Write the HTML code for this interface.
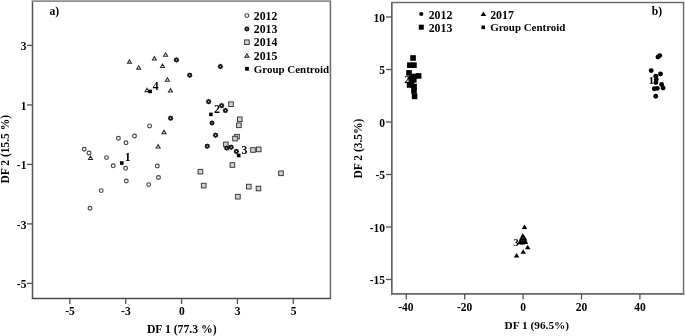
<!DOCTYPE html>
<html><head><meta charset="utf-8"><style>
html,body{margin:0;padding:0;background:#fff;}
body{width:685px;height:336px;overflow:hidden;font-family:"Liberation Serif",serif;}
svg{display:block;will-change:transform;}
</style></head><body>
<svg width="685" height="336" viewBox="0 0 685 336">
<defs><filter id="bl" x="0" y="0" width="100%" height="100%"><feGaussianBlur stdDeviation="0.28"/></filter></defs>
<rect width="685" height="336" fill="#fff"/>
<g filter="url(#bl)">
<line x1="32.5" y1="0" x2="32.5" y2="298.6" stroke="#535353" stroke-width="1.5"/>
<line x1="31.8" y1="298.55" x2="331.1" y2="298.55" stroke="#484848" stroke-width="1.45"/>
<line x1="330.45" y1="0" x2="330.45" y2="298.6" stroke="#6a6a6a" stroke-width="1.5"/>
<rect x="32" y="0" width="299" height="1" fill="#aaaaaa"/><rect x="32" y="1" width="299" height="1" fill="#8c8c8c"/>
<line x1="27" y1="45.4" x2="32.5" y2="45.4" stroke="#535353" stroke-width="1.3"/>
<text x="26.4" y="50.2" text-anchor="end" font-family="Liberation Serif" font-weight="bold" font-size="11.5">3</text>
<line x1="27" y1="104.9" x2="32.5" y2="104.9" stroke="#535353" stroke-width="1.3"/>
<text x="26.4" y="109.7" text-anchor="end" font-family="Liberation Serif" font-weight="bold" font-size="11.5">1</text>
<line x1="27" y1="164.4" x2="32.5" y2="164.4" stroke="#535353" stroke-width="1.3"/>
<text x="26.4" y="169.2" text-anchor="end" font-family="Liberation Serif" font-weight="bold" font-size="11.5">-1</text>
<line x1="27" y1="223.9" x2="32.5" y2="223.9" stroke="#535353" stroke-width="1.3"/>
<text x="26.4" y="228.7" text-anchor="end" font-family="Liberation Serif" font-weight="bold" font-size="11.5">-3</text>
<line x1="27" y1="283.4" x2="32.5" y2="283.4" stroke="#535353" stroke-width="1.3"/>
<text x="26.4" y="288.2" text-anchor="end" font-family="Liberation Serif" font-weight="bold" font-size="11.5">-5</text>
<line x1="69.8" y1="298.5" x2="69.8" y2="304.0" stroke="#535353" stroke-width="1.3"/>
<text x="70.0" y="315.2" text-anchor="middle" font-family="Liberation Serif" font-weight="bold" font-size="11.5">-5</text>
<line x1="125.7" y1="298.5" x2="125.7" y2="304.0" stroke="#535353" stroke-width="1.3"/>
<text x="125.9" y="315.2" text-anchor="middle" font-family="Liberation Serif" font-weight="bold" font-size="11.5">-3</text>
<line x1="181.55" y1="298.5" x2="181.55" y2="304.0" stroke="#535353" stroke-width="1.3"/>
<text x="181.75" y="315.2" text-anchor="middle" font-family="Liberation Serif" font-weight="bold" font-size="11.5">0</text>
<line x1="237.4" y1="298.5" x2="237.4" y2="304.0" stroke="#535353" stroke-width="1.3"/>
<text x="237.6" y="315.2" text-anchor="middle" font-family="Liberation Serif" font-weight="bold" font-size="11.5">3</text>
<line x1="293.3" y1="298.5" x2="293.3" y2="304.0" stroke="#535353" stroke-width="1.3"/>
<text x="293.5" y="315.2" text-anchor="middle" font-family="Liberation Serif" font-weight="bold" font-size="11.5">5</text>
<text x="146.9" y="333.1" font-family="Liberation Serif" font-weight="bold" font-size="11.7">DF 1 (77.3 %)</text>
<text transform="translate(8.7,183.5) rotate(-90)" x="0" y="0" font-family="Liberation Serif" font-weight="bold" font-size="11.5">DF 2 (15.5 %)</text>
<text x="49.5" y="14.9" font-family="Liberation Serif" font-weight="bold" font-size="11.6">a)</text>
<circle cx="84.2" cy="149.2" r="1.9" fill="#fff" stroke="#444" stroke-width="1.15"/>
<circle cx="89.0" cy="153.0" r="1.9" fill="#fff" stroke="#444" stroke-width="1.15"/>
<circle cx="106.5" cy="157.6" r="1.9" fill="#fff" stroke="#444" stroke-width="1.15"/>
<circle cx="113.2" cy="165.8" r="1.9" fill="#fff" stroke="#444" stroke-width="1.15"/>
<circle cx="125.6" cy="168.3" r="1.9" fill="#fff" stroke="#444" stroke-width="1.15"/>
<circle cx="126.0" cy="142.7" r="1.9" fill="#fff" stroke="#444" stroke-width="1.15"/>
<circle cx="118.4" cy="138.2" r="1.9" fill="#fff" stroke="#444" stroke-width="1.15"/>
<circle cx="134.5" cy="136.0" r="1.9" fill="#fff" stroke="#444" stroke-width="1.15"/>
<circle cx="149.6" cy="125.9" r="1.9" fill="#fff" stroke="#444" stroke-width="1.15"/>
<circle cx="157.3" cy="166.0" r="1.9" fill="#fff" stroke="#444" stroke-width="1.15"/>
<circle cx="158.5" cy="177.5" r="1.9" fill="#fff" stroke="#444" stroke-width="1.15"/>
<circle cx="148.7" cy="184.6" r="1.9" fill="#fff" stroke="#444" stroke-width="1.15"/>
<circle cx="126.3" cy="181.0" r="1.9" fill="#fff" stroke="#444" stroke-width="1.15"/>
<circle cx="101.2" cy="190.6" r="1.9" fill="#fff" stroke="#444" stroke-width="1.15"/>
<circle cx="90.0" cy="208.2" r="1.9" fill="#fff" stroke="#444" stroke-width="1.15"/>
<polygon points="129.50,59.70 131.50,63.10 127.50,63.10" fill="#fff" stroke="#2a2a2a" stroke-width="1.05" stroke-linejoin="miter"/>
<polygon points="138.70,65.70 140.70,69.10 136.70,69.10" fill="#fff" stroke="#2a2a2a" stroke-width="1.05" stroke-linejoin="miter"/>
<polygon points="154.40,56.60 156.40,60.00 152.40,60.00" fill="#fff" stroke="#2a2a2a" stroke-width="1.05" stroke-linejoin="miter"/>
<polygon points="165.60,52.80 167.60,56.20 163.60,56.20" fill="#fff" stroke="#2a2a2a" stroke-width="1.05" stroke-linejoin="miter"/>
<polygon points="162.50,64.00 164.50,67.40 160.50,67.40" fill="#fff" stroke="#2a2a2a" stroke-width="1.05" stroke-linejoin="miter"/>
<polygon points="167.40,77.80 169.40,81.20 165.40,81.20" fill="#fff" stroke="#2a2a2a" stroke-width="1.05" stroke-linejoin="miter"/>
<polygon points="170.50,88.60 172.50,92.00 168.50,92.00" fill="#fff" stroke="#2a2a2a" stroke-width="1.05" stroke-linejoin="miter"/>
<polygon points="147.00,88.20 149.00,91.60 145.00,91.60" fill="#fff" stroke="#2a2a2a" stroke-width="1.05" stroke-linejoin="miter"/>
<polygon points="164.00,130.30 166.00,133.70 162.00,133.70" fill="#fff" stroke="#2a2a2a" stroke-width="1.05" stroke-linejoin="miter"/>
<polygon points="158.10,144.60 160.10,148.00 156.10,148.00" fill="#fff" stroke="#2a2a2a" stroke-width="1.05" stroke-linejoin="miter"/>
<polygon points="90.50,156.10 92.50,159.50 88.50,159.50" fill="#fff" stroke="#2a2a2a" stroke-width="1.05" stroke-linejoin="miter"/>
<rect x="228.70" y="101.90" width="4.6" height="4.6" fill="#d4d4d4" stroke="#3a3a3a" stroke-width="1"/>
<rect x="237.50" y="117.00" width="4.6" height="4.6" fill="#d4d4d4" stroke="#3a3a3a" stroke-width="1"/>
<rect x="236.60" y="123.00" width="4.6" height="4.6" fill="#d4d4d4" stroke="#3a3a3a" stroke-width="1"/>
<rect x="234.70" y="134.40" width="4.6" height="4.6" fill="#d4d4d4" stroke="#3a3a3a" stroke-width="1"/>
<rect x="232.70" y="136.30" width="4.6" height="4.6" fill="#d4d4d4" stroke="#3a3a3a" stroke-width="1"/>
<rect x="223.60" y="142.10" width="4.6" height="4.6" fill="#d4d4d4" stroke="#3a3a3a" stroke-width="1"/>
<rect x="250.70" y="147.70" width="4.6" height="4.6" fill="#d4d4d4" stroke="#3a3a3a" stroke-width="1"/>
<rect x="256.40" y="147.10" width="4.6" height="4.6" fill="#d4d4d4" stroke="#3a3a3a" stroke-width="1"/>
<rect x="230.10" y="162.70" width="4.6" height="4.6" fill="#d4d4d4" stroke="#3a3a3a" stroke-width="1"/>
<rect x="198.10" y="169.40" width="4.6" height="4.6" fill="#d4d4d4" stroke="#3a3a3a" stroke-width="1"/>
<rect x="201.40" y="183.30" width="4.6" height="4.6" fill="#d4d4d4" stroke="#3a3a3a" stroke-width="1"/>
<rect x="246.50" y="184.30" width="4.6" height="4.6" fill="#d4d4d4" stroke="#3a3a3a" stroke-width="1"/>
<rect x="256.20" y="186.20" width="4.6" height="4.6" fill="#d4d4d4" stroke="#3a3a3a" stroke-width="1"/>
<rect x="235.60" y="194.40" width="4.6" height="4.6" fill="#d4d4d4" stroke="#3a3a3a" stroke-width="1"/>
<rect x="278.70" y="171.00" width="4.6" height="4.6" fill="#d4d4d4" stroke="#3a3a3a" stroke-width="1"/>
<polygon points="176.40,56.90 177.17,58.05 178.52,57.78 178.25,59.13 179.40,59.90 178.25,60.67 178.52,62.02 177.17,61.75 176.40,62.90 175.63,61.75 174.28,62.02 174.55,60.67 173.40,59.90 174.55,59.13 174.28,57.78 175.63,58.05" fill="#151515"/><circle cx="176.4" cy="59.9" r="2.2" fill="#151515"/><circle cx="176.4" cy="59.9" r="0.6" fill="#fff"/>
<polygon points="189.70,72.20 190.47,73.35 191.82,73.08 191.55,74.43 192.70,75.20 191.55,75.97 191.82,77.32 190.47,77.05 189.70,78.20 188.93,77.05 187.58,77.32 187.85,75.97 186.70,75.20 187.85,74.43 187.58,73.08 188.93,73.35" fill="#151515"/><circle cx="189.7" cy="75.2" r="2.2" fill="#151515"/><circle cx="189.7" cy="75.2" r="0.6" fill="#fff"/>
<polygon points="220.40,63.50 221.17,64.65 222.52,64.38 222.25,65.73 223.40,66.50 222.25,67.27 222.52,68.62 221.17,68.35 220.40,69.50 219.63,68.35 218.28,68.62 218.55,67.27 217.40,66.50 218.55,65.73 218.28,64.38 219.63,64.65" fill="#151515"/><circle cx="220.4" cy="66.5" r="2.2" fill="#151515"/><circle cx="220.4" cy="66.5" r="0.6" fill="#fff"/>
<polygon points="170.60,115.20 171.37,116.35 172.72,116.08 172.45,117.43 173.60,118.20 172.45,118.97 172.72,120.32 171.37,120.05 170.60,121.20 169.83,120.05 168.48,120.32 168.75,118.97 167.60,118.20 168.75,117.43 168.48,116.08 169.83,116.35" fill="#151515"/><circle cx="170.6" cy="118.2" r="2.2" fill="#151515"/><circle cx="170.6" cy="118.2" r="0.6" fill="#fff"/>
<polygon points="208.60,98.60 209.37,99.75 210.72,99.48 210.45,100.83 211.60,101.60 210.45,102.37 210.72,103.72 209.37,103.45 208.60,104.60 207.83,103.45 206.48,103.72 206.75,102.37 205.60,101.60 206.75,100.83 206.48,99.48 207.83,99.75" fill="#151515"/><circle cx="208.6" cy="101.6" r="2.2" fill="#151515"/><circle cx="208.6" cy="101.6" r="0.6" fill="#fff"/>
<polygon points="221.60,102.60 222.37,103.75 223.72,103.48 223.45,104.83 224.60,105.60 223.45,106.37 223.72,107.72 222.37,107.45 221.60,108.60 220.83,107.45 219.48,107.72 219.75,106.37 218.60,105.60 219.75,104.83 219.48,103.48 220.83,103.75" fill="#151515"/><circle cx="221.6" cy="105.6" r="2.2" fill="#151515"/><circle cx="221.6" cy="105.6" r="0.6" fill="#fff"/>
<polygon points="225.40,107.50 226.17,108.65 227.52,108.38 227.25,109.73 228.40,110.50 227.25,111.27 227.52,112.62 226.17,112.35 225.40,113.50 224.63,112.35 223.28,112.62 223.55,111.27 222.40,110.50 223.55,109.73 223.28,108.38 224.63,108.65" fill="#151515"/><circle cx="225.4" cy="110.5" r="2.2" fill="#151515"/><circle cx="225.4" cy="110.5" r="0.6" fill="#fff"/>
<polygon points="212.00,120.00 212.77,121.15 214.12,120.88 213.85,122.23 215.00,123.00 213.85,123.77 214.12,125.12 212.77,124.85 212.00,126.00 211.23,124.85 209.88,125.12 210.15,123.77 209.00,123.00 210.15,122.23 209.88,120.88 211.23,121.15" fill="#151515"/><circle cx="212.0" cy="123.0" r="2.2" fill="#151515"/><circle cx="212.0" cy="123.0" r="0.6" fill="#fff"/>
<polygon points="215.60,132.20 216.37,133.35 217.72,133.08 217.45,134.43 218.60,135.20 217.45,135.97 217.72,137.32 216.37,137.05 215.60,138.20 214.83,137.05 213.48,137.32 213.75,135.97 212.60,135.20 213.75,134.43 213.48,133.08 214.83,133.35" fill="#151515"/><circle cx="215.6" cy="135.2" r="2.2" fill="#151515"/><circle cx="215.6" cy="135.2" r="0.6" fill="#fff"/>
<polygon points="207.30,143.20 208.07,144.35 209.42,144.08 209.15,145.43 210.30,146.20 209.15,146.97 209.42,148.32 208.07,148.05 207.30,149.20 206.53,148.05 205.18,148.32 205.45,146.97 204.30,146.20 205.45,145.43 205.18,144.08 206.53,144.35" fill="#151515"/><circle cx="207.3" cy="146.2" r="2.2" fill="#151515"/><circle cx="207.3" cy="146.2" r="0.6" fill="#fff"/>
<polygon points="226.70,145.10 227.47,146.25 228.82,145.98 228.55,147.33 229.70,148.10 228.55,148.87 228.82,150.22 227.47,149.95 226.70,151.10 225.93,149.95 224.58,150.22 224.85,148.87 223.70,148.10 224.85,147.33 224.58,145.98 225.93,146.25" fill="#151515"/><circle cx="226.7" cy="148.1" r="2.2" fill="#151515"/><circle cx="226.7" cy="148.1" r="0.6" fill="#fff"/>
<polygon points="231.20,144.20 231.97,145.35 233.32,145.08 233.05,146.43 234.20,147.20 233.05,147.97 233.32,149.32 231.97,149.05 231.20,150.20 230.43,149.05 229.08,149.32 229.35,147.97 228.20,147.20 229.35,146.43 229.08,145.08 230.43,145.35" fill="#151515"/><circle cx="231.2" cy="147.2" r="2.2" fill="#151515"/><circle cx="231.2" cy="147.2" r="0.6" fill="#fff"/>
<polygon points="236.40,148.40 237.17,149.55 238.52,149.28 238.25,150.63 239.40,151.40 238.25,152.17 238.52,153.52 237.17,153.25 236.40,154.40 235.63,153.25 234.28,153.52 234.55,152.17 233.40,151.40 234.55,150.63 234.28,149.28 235.63,149.55" fill="#151515"/><circle cx="236.4" cy="151.4" r="2.2" fill="#151515"/><circle cx="236.4" cy="151.4" r="0.6" fill="#fff"/>
<rect x="120.00" y="161.20" width="3.6" height="3.6" fill="#000"/>
<text x="124.8" y="161.2" font-family="Liberation Serif" font-weight="bold" font-size="11.8">1</text>
<rect x="209.10" y="112.60" width="3.6" height="3.6" fill="#000"/>
<text x="213.9" y="112.7" font-family="Liberation Serif" font-weight="bold" font-size="11.8">2</text>
<rect x="236.90" y="153.70" width="3.6" height="3.6" fill="#000"/>
<text x="241.6" y="153.7" font-family="Liberation Serif" font-weight="bold" font-size="11.8">3</text>
<rect x="148.30" y="89.60" width="3.6" height="3.6" fill="#000"/>
<text x="152.8" y="89.7" font-family="Liberation Serif" font-weight="bold" font-size="11.8">4</text>
<circle cx="246.9" cy="15.600000000000001" r="1.9" fill="#fff" stroke="#444" stroke-width="1.15"/>
<text x="253.8" y="19.6" font-family="Liberation Serif" font-weight="bold" font-size="11.8">2012</text>
<polygon points="246.90,25.90 247.67,27.05 249.02,26.78 248.75,28.13 249.90,28.90 248.75,29.67 249.02,31.02 247.67,30.75 246.90,31.90 246.13,30.75 244.78,31.02 245.05,29.67 243.90,28.90 245.05,28.13 244.78,26.78 246.13,27.05" fill="#151515"/><circle cx="246.9" cy="28.900000000000006" r="2.2" fill="#151515"/><circle cx="246.9" cy="28.900000000000006" r="0.6" fill="#fff"/>
<text x="253.8" y="32.9" font-family="Liberation Serif" font-weight="bold" font-size="11.8">2013</text>
<rect x="244.60" y="39.90" width="4.6" height="4.6" fill="#d4d4d4" stroke="#3a3a3a" stroke-width="1"/>
<text x="253.8" y="46.2" font-family="Liberation Serif" font-weight="bold" font-size="11.8">2014</text>
<polygon points="246.90,53.70 248.90,57.10 244.90,57.10" fill="#fff" stroke="#2a2a2a" stroke-width="1.05" stroke-linejoin="miter"/>
<text x="253.8" y="59.5" font-family="Liberation Serif" font-weight="bold" font-size="11.8">2015</text>
<rect x="245.10" y="66.90" width="3.8" height="3.8" fill="#000"/>
<text x="253.8" y="72.8" font-family="Liberation Serif" font-weight="bold" font-size="10.95">Group Centroid</text>
<line x1="391.85" y1="2" x2="391.85" y2="294.6" stroke="#535353" stroke-width="1.5"/>
<line x1="391" y1="293.95" x2="684.1" y2="293.95" stroke="#666" stroke-width="1.7"/>
<line x1="683.55" y1="2" x2="683.55" y2="294.6" stroke="#6c6c6c" stroke-width="1.45"/>
<line x1="391" y1="2.55" x2="684.1" y2="2.55" stroke="#6c6c6c" stroke-width="1.6"/>
<line x1="386" y1="17.0" x2="391.7" y2="17.0" stroke="#535353" stroke-width="1.3"/>
<text x="385.0" y="21.7" text-anchor="end" font-family="Liberation Serif" font-weight="bold" font-size="11.5">10</text>
<line x1="386" y1="69.5" x2="391.7" y2="69.5" stroke="#535353" stroke-width="1.3"/>
<text x="385.0" y="74.2" text-anchor="end" font-family="Liberation Serif" font-weight="bold" font-size="11.5">5</text>
<line x1="386" y1="122.0" x2="391.7" y2="122.0" stroke="#535353" stroke-width="1.3"/>
<text x="385.0" y="126.7" text-anchor="end" font-family="Liberation Serif" font-weight="bold" font-size="11.5">0</text>
<line x1="386" y1="174.5" x2="391.7" y2="174.5" stroke="#535353" stroke-width="1.3"/>
<text x="385.0" y="179.2" text-anchor="end" font-family="Liberation Serif" font-weight="bold" font-size="11.5">-5</text>
<line x1="386" y1="227.0" x2="391.7" y2="227.0" stroke="#535353" stroke-width="1.3"/>
<text x="385.0" y="231.7" text-anchor="end" font-family="Liberation Serif" font-weight="bold" font-size="11.5">-10</text>
<line x1="386" y1="279.5" x2="391.7" y2="279.5" stroke="#535353" stroke-width="1.3"/>
<text x="385.0" y="284.2" text-anchor="end" font-family="Liberation Serif" font-weight="bold" font-size="11.5">-15</text>
<line x1="406.3" y1="293.8" x2="406.3" y2="299.6" stroke="#535353" stroke-width="1.3"/>
<text x="405.8" y="310.5" text-anchor="middle" font-family="Liberation Serif" font-weight="bold" font-size="11.5">-40</text>
<line x1="464.7" y1="293.8" x2="464.7" y2="299.6" stroke="#535353" stroke-width="1.3"/>
<text x="464.7" y="310.5" text-anchor="middle" font-family="Liberation Serif" font-weight="bold" font-size="11.5">-20</text>
<line x1="523.1" y1="293.8" x2="523.1" y2="299.6" stroke="#535353" stroke-width="1.3"/>
<text x="523.1" y="310.5" text-anchor="middle" font-family="Liberation Serif" font-weight="bold" font-size="11.5">0</text>
<line x1="581.5" y1="293.8" x2="581.5" y2="299.6" stroke="#535353" stroke-width="1.3"/>
<text x="581.5" y="310.5" text-anchor="middle" font-family="Liberation Serif" font-weight="bold" font-size="11.5">20</text>
<line x1="639.9" y1="293.8" x2="639.9" y2="299.6" stroke="#535353" stroke-width="1.3"/>
<text x="639.9" y="310.5" text-anchor="middle" font-family="Liberation Serif" font-weight="bold" font-size="11.5">40</text>
<text x="504.6" y="329" font-family="Liberation Serif" font-weight="bold" font-size="11.3">DF 1 (96.5%)</text>
<text transform="translate(362.3,178.5) rotate(-90)" font-family="Liberation Serif" font-weight="bold" font-size="11.5">DF 2 (3.5%)</text>
<text x="651.8" y="15.2" font-family="Liberation Serif" font-weight="bold" font-size="11.6">b)</text>
<text x="404.3" y="82.5" font-family="Liberation Serif" font-weight="bold" font-size="11">2</text>
<text x="648.6" y="83.9" font-family="Liberation Serif" font-weight="bold" font-size="11.3">1</text>
<text x="513.2" y="245.6" font-family="Liberation Serif" font-weight="bold" font-size="11">3</text>
<rect x="410.25" y="55.20" width="5.6" height="5.6" fill="#000"/>
<rect x="407.05" y="62.35" width="5.6" height="5.6" fill="#000"/>
<rect x="411.15" y="62.35" width="5.6" height="5.6" fill="#000"/>
<rect x="406.20" y="70.10" width="5.6" height="5.6" fill="#000"/>
<rect x="415.80" y="73.10" width="5.6" height="5.6" fill="#000"/>
<rect x="410.70" y="73.70" width="5.6" height="5.6" fill="#000"/>
<rect x="411.00" y="77.00" width="5.6" height="5.6" fill="#000"/>
<rect x="408.60" y="75.60" width="5.6" height="5.6" fill="#000"/>
<rect x="408.80" y="78.80" width="5.6" height="5.6" fill="#000"/>
<rect x="406.80" y="82.20" width="5.6" height="5.6" fill="#000"/>
<rect x="411.30" y="83.80" width="5.6" height="5.6" fill="#000"/>
<rect x="411.20" y="88.20" width="5.6" height="5.6" fill="#000"/>
<rect x="411.80" y="93.60" width="5.6" height="5.6" fill="#000"/>
<circle cx="657.9" cy="57.1" r="2.45" fill="#000"/>
<circle cx="659.8" cy="55.6" r="2.45" fill="#000"/>
<circle cx="651.2" cy="70.6" r="2.45" fill="#000"/>
<circle cx="660.5" cy="74.0" r="2.45" fill="#000"/>
<circle cx="655.8" cy="76.3" r="2.45" fill="#000"/>
<circle cx="656.3" cy="79.5" r="2.45" fill="#000"/>
<circle cx="655.9" cy="82.6" r="2.45" fill="#000"/>
<circle cx="661.6" cy="84.5" r="2.45" fill="#000"/>
<circle cx="654.3" cy="88.8" r="2.45" fill="#000"/>
<circle cx="657.3" cy="88.4" r="2.45" fill="#000"/>
<circle cx="663.1" cy="88.0" r="2.45" fill="#000"/>
<circle cx="655.7" cy="96.2" r="2.45" fill="#000"/>
<polygon points="524.50,224.60 527.25,229.10 521.75,229.10" fill="#000"/>
<polygon points="522.80,233.20 525.55,237.70 520.05,237.70" fill="#000"/>
<polygon points="521.50,236.20 524.25,240.70 518.75,240.70" fill="#000"/>
<polygon points="524.60,236.00 527.35,240.50 521.85,240.50" fill="#000"/>
<polygon points="520.60,239.40 523.35,243.90 517.85,243.90" fill="#000"/>
<polygon points="524.60,239.60 527.35,244.10 521.85,244.10" fill="#000"/>
<polygon points="522.50,239.90 525.25,244.40 519.75,244.40" fill="#000"/>
<polygon points="519.80,239.80 522.55,244.30 517.05,244.30" fill="#000"/>
<polygon points="525.60,239.20 528.35,243.70 522.85,243.70" fill="#000"/>
<polygon points="527.70,244.80 530.45,249.30 524.95,249.30" fill="#000"/>
<polygon points="523.20,249.20 525.95,253.70 520.45,253.70" fill="#000"/>
<polygon points="516.60,253.00 519.35,257.50 513.85,257.50" fill="#000"/>
<circle cx="421.3" cy="14.0" r="2.1" fill="#000"/>
<text x="428.7" y="18.6" font-family="Liberation Serif" font-weight="bold" font-size="11.8">2012</text>
<rect x="418.80" y="24.70" width="5" height="5" fill="#000"/>
<text x="428.7" y="31.6" font-family="Liberation Serif" font-weight="bold" font-size="11.8">2013</text>
<polygon points="483.40,11.50 486.15,16.00 480.65,16.00" fill="#000"/>
<text x="490.2" y="18.7" font-family="Liberation Serif" font-weight="bold" font-size="11.8">2017</text>
<rect x="481.40" y="25.50" width="3.6" height="3.6" fill="#000"/>
<text x="490.2" y="31.2" font-family="Liberation Serif" font-weight="bold" font-size="10.95">Group Centroid</text>
</g>
</svg>
</body></html>
